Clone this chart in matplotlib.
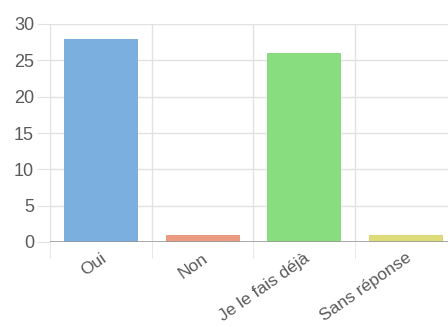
import matplotlib
matplotlib.use('Agg')
import matplotlib.pyplot as plt

categories = ['Oui', 'Non', 'Je le fais déjà', 'Sans réponse']
values = [28, 1, 26, 1]
colors = ['#7aafe0', '#ec9a80', '#88de7e', '#dedc78']
edges = ['#72a6d6', '#e29076', '#80d476', '#d4d270']

plt.rcParams['font.family'] = ['Liberation Sans', 'DejaVu Sans']

fig = plt.figure(figsize=(4.48, 3.27), dpi=100)
ax = fig.add_axes([50 / 448, 85 / 327, 406 / 448, 218 / 327])

x = range(len(categories))
ax.bar(x, values, width=0.72, color=colors, edgecolor=edges, linewidth=0.6, zorder=3)

ax.set_xlim(-0.5, 3.5)
ax.set_ylim(0, 30)
ax.set_yticks([0, 5, 10, 15, 20, 25, 30])
ax.set_xticks(list(x))
ax.set_xticklabels(categories, rotation=35, ha='right', va='top', rotation_mode='anchor')
ax.set_xticks([-0.5, 0.5, 1.5, 2.5, 3.5], minor=True)

for s in ax.spines.values():
    s.set_visible(False)
ax.grid(True, axis='y', color='#e2e2e2', linewidth=1, zorder=0)
ax.grid(True, axis='x', which='minor', color='#e2e2e2', linewidth=1, zorder=0)
ax.axhline(0, color='#999999', linewidth=1.2, zorder=4)

ax.tick_params(axis='y', length=9.5, color='#e2e2e2', labelcolor='#5a5a5a', labelsize=13, pad=2)
ax.tick_params(axis='x', which='major', length=0, labelcolor='#5a5a5a', labelsize=12.5, pad=6)
ax.tick_params(axis='x', which='minor', length=11.5, color='#e2e2e2')

fig.savefig('out.png', dpi=100)
